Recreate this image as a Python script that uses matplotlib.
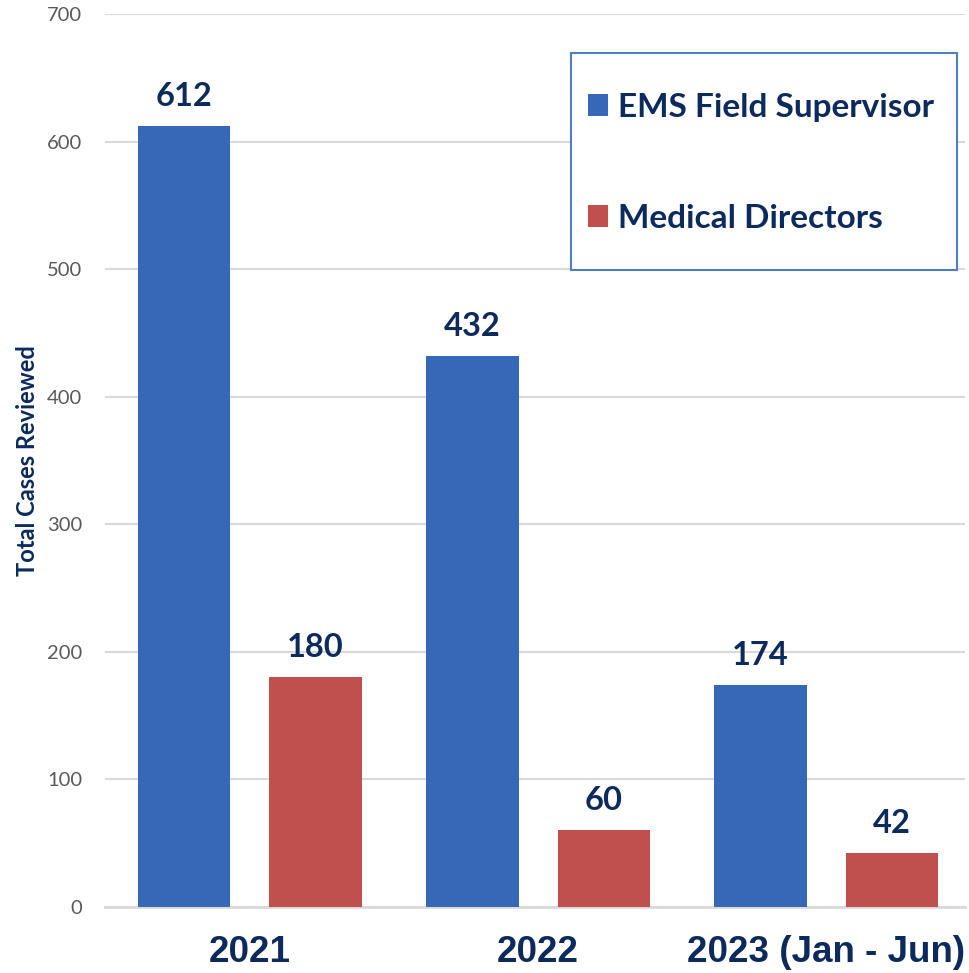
import matplotlib.pyplot as plt
import numpy as np
from matplotlib.patches import Patch, Rectangle

# data
periods = ["2021", "2022", "2023 (Jan - Jun)"]
ems_supervisor = [612, 432, 174]
medical_directors = [180, 60, 42]
series_names = ["EMS Field Supervisor", "Medical Directors"]

BLUE = "#3568b6"
RED = "#c0504d"
NAVY = "#0c2a5c"
GREY = "#595959"
GRID = "#d9d9d9"

plt.rcParams["font.family"] = ["Lato", "DejaVu Sans"]

fig = plt.figure(figsize=(9.69, 9.73), dpi=100)
ax = fig.add_axes([0.108, 0.0678, 0.888, 0.9178])

x = np.arange(len(periods))
off = 0.228
w = 0.321
b1 = ax.bar(x - off, ems_supervisor, w, color=BLUE, zorder=3)
b2 = ax.bar(x + off, medical_directors, w, color=RED, zorder=3)

for bars, vals in [(b1, ems_supervisor), (b2, medical_directors)]:
    for bar, v in zip(bars, vals):
        ax.annotate(str(v), (bar.get_x() + bar.get_width() / 2, v),
                    xytext=(0, 11), textcoords="offset points",
                    ha="center", va="bottom", fontsize=23.5,
                    fontweight="bold", color=NAVY)

ax.set_xlim(-0.504, 2.482)
ax.set_ylim(0, 700)
ax.set_yticks(range(0, 701, 100))
ax.yaxis.grid(True, color=GRID, linewidth=1.5, zorder=0)
ax.set_axisbelow(True)
for s in ["top", "right", "left"]:
    ax.spines[s].set_visible(False)
ax.spines["bottom"].set_color(GRID)
ax.spines["bottom"].set_linewidth(2)
ax.tick_params(axis="y", length=0, pad=16, labelsize=14.5, labelcolor=GREY)
ax.tick_params(axis="x", length=0, pad=20)
ax.set_xticks(x)
ax.set_xticklabels(periods)
for lbl in ax.get_xticklabels():
    lbl.set_family(["Liberation Sans", "DejaVu Sans"])
    lbl.set_fontweight("bold")
    lbl.set_fontsize(26.5)
    lbl.set_color(NAVY)

ax.set_ylabel("Total Cases Reviewed", fontsize=17, fontweight="bold",
              color=NAVY, labelpad=6)

# legend box
ax.add_patch(Rectangle((0.542, 0.713), 0.449, 0.243, transform=ax.transAxes,
                       facecolor="white", edgecolor="#4f7fc0", linewidth=1.5,
                       zorder=5, clip_on=False))
handles = [Patch(facecolor=BLUE), Patch(facecolor=RED)]
leg = ax.legend(handles, series_names, loc="center left",
                bbox_to_anchor=(0.542, 0.8335), frameon=False,
                fontsize=24, handlelength=0.62, handleheight=0.62,
                handletextpad=0.3, labelspacing=2.45, borderpad=0)
leg.set_zorder(6)
for t in leg.get_texts():
    t.set_fontweight("bold")
    t.set_color(NAVY)

fig.savefig("out.png", dpi=100)
